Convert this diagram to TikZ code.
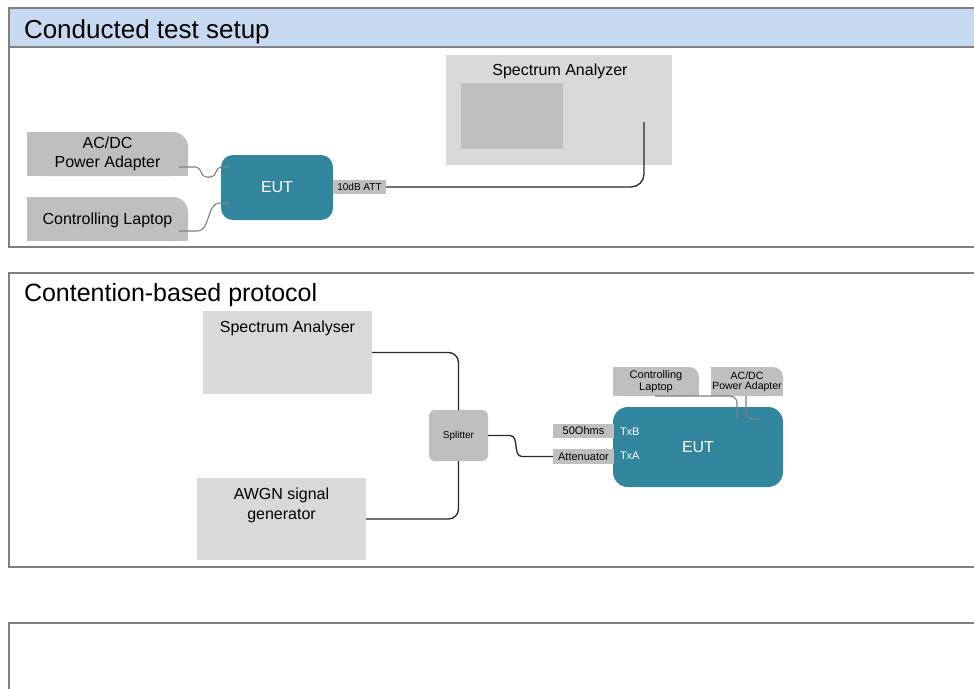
\documentclass[tikz,border=0pt]{standalone}
\usepackage{fontspec}
\setmainfont{Liberation Sans}
\usetikzlibrary{backgrounds,calc}
\definecolor{framegray}{HTML}{808080}
\definecolor{hdrblue}{HTML}{C6D9F1}
\definecolor{boxgray}{HTML}{BFBFBF}
\definecolor{panelgray}{HTML}{D9D9D9}
\definecolor{eutteal}{HTML}{31859C}
\definecolor{cablegray}{HTML}{7F7F7F}
\begin{document}
\begin{tikzpicture}[x=1pt,y=-1pt,
  every node/.style={inner sep=0pt, outer sep=0pt},
  frameline/.style={draw=framegray, line width=1.5pt},
  ttl/.style={anchor=base west, font=\fontsize{26}{30}\selectfont},
  lbl/.style={font=\fontsize{16}{19}\selectfont, align=center},
  smalltxt/.style={font=\fontsize{11}{12.5}\selectfont, align=center},
  graybox/.style={fill=boxgray},
  panel/.style={fill=panelgray},
  eutbox/.style={fill=eutteal, text=white, rounded corners=12pt, font=\fontsize{16}{19}\selectfont},
  cable/.style={draw=black!85, line width=1.3pt},
  gcable/.style={draw=cablegray, line width=1.1pt}]
\useasboundingbox (0,0) rectangle (974,688);
% frames
\fill[hdrblue] (9,8) rectangle (990,47);
\draw[frameline] (9,8) rectangle (990,247);
\draw[frameline] (9,47) -- (990,47);
\draw[frameline] (9,273) rectangle (990,567);
\draw[frameline] (9,623) rectangle (990,710);
\node[ttl] (t1) at (24,38) {Conducted test setup};
\node[ttl, font=\fontsize{25}{30}\selectfont] (t2) at (24,301) {Contention-based protocol};
% ---- conducted test setup
\node[lbl, minimum width=161pt, minimum height=44pt] (ac1) at (107.5,154) {AC/DC\\Power Adapter};
\node[lbl, text height=11.5pt, text depth=0pt, minimum width=161pt, minimum height=44pt] (lap1) at (107.5,219) {Controlling Laptop};
\node[eutbox, minimum width=112pt, minimum height=65pt] (eut1) at (277,187.5) {EUT};
\node[graybox, minimum width=53pt, minimum height=14pt, font=\fontsize{10}{12}\selectfont] (att1) at (359.5,187) {10dB ATT};
\node[panel, minimum width=226pt, minimum height=110pt] (sa1) at (559,110) {};
\node[lbl, anchor=base] (sa1t) at (560,75) {Spectrum Analyzer};
\node[graybox, minimum width=102pt, minimum height=66pt] (scr1) at (512,116) {};
\coordinate (sa1port) at (644,122);
\coordinate (ac1out) at (179,167);
\coordinate (eut1a) at (229,167);
\coordinate (lap1out) at (179,231);
\coordinate (eut1b) at (229,203);
% ---- contention-based protocol
\node[panel, minimum width=169pt, minimum height=83pt] (sa2) at (287.5,352.5) {};
\node[lbl, anchor=base] (sa2t) at (287.5,332) {Spectrum Analyser};
\node[panel, minimum width=169pt, minimum height=82pt] (awgn) at (281.5,519) {};
\node[lbl, font=\fontsize{16}{20}\selectfont] (awgnt) at (281.5,505) {AWGN signal\\generator};
\node[graybox, rounded corners=6pt, minimum width=59pt, minimum height=51pt, font=\fontsize{10}{12}\selectfont] (spl) at (458.5,435.5) {Splitter};
\node[smalltxt, minimum width=86pt, minimum height=29pt] (lap2) at (656,381.5) {Controlling\\Laptop};
\node[smalltxt, font=\fontsize{10.5}{10}\selectfont, minimum width=72pt, minimum height=29pt] (ac2) at (747,381.5) {AC/DC\\Power Adapter};
\node[eutbox, rounded corners=15pt, minimum width=170pt, minimum height=80pt] (eut2) at (698,447) {EUT};
\node[graybox, smalltxt, minimum width=61pt, minimum height=14pt] (ohm) at (583.5,431) {50Ohms};
\node[graybox, smalltxt, minimum width=61pt, minimum height=15pt] (attn) at (583.5,456.5) {Attenuator};
\node[smalltxt, text=white, anchor=west] (txb) at (620,432) {TxB};
\node[smalltxt, text=white, anchor=west] (txa) at (620,456) {TxA};
\coordinate (lap2out) at (655,396);
\coordinate (eut2l) at (737,419);
\coordinate (ac2out) at (746,396);
\coordinate (eut2r) at (760,419);
% boxes with one rounded corner
\begin{scope}[on background layer]
\foreach \nm/\rad in {ac1/15pt, lap1/15pt, lap2/10pt, ac2/10pt} {
  \fill[boxgray, rounded corners=\rad] (\nm.south west) rectangle (\nm.north east);
  \fill[boxgray] (\nm.south west) rectangle ([xshift=-\rad]\nm.north east);
  \fill[boxgray] (\nm.south west) rectangle ([yshift=-\rad]\nm.north east);
}
\end{scope}
% connectors
\draw[gcable] (ac1out) -- ++(17,0) to[out=0,in=180] ++(10,10) -- ++(5,0) to[out=0,in=180] ([xshift=-8pt]eut1a) -- (eut1a);
\draw[gcable] (lap1out) -- ++(18,0) to[out=0,in=180] ([xshift=-9pt]eut1b) -- (eut1b);
\draw[cable, rounded corners=13pt] (att1.east) -| (sa1port);
\draw[cable, rounded corners=10pt] (sa2.east) -| (spl.north);
\draw[cable, rounded corners=10pt] (awgn.east) -| (spl.south);
\draw[cable] (spl.east) -- ++(22,0) to[out=0,in=180] ($(attn.west)+(-31,0)$) -- (attn.west);
\draw[gcable, rounded corners=7pt] (lap2out) -| (eut2l);
\draw[gcable, rounded corners=7pt] (ac2out) |- (eut2r);
\end{tikzpicture}
\end{document}
